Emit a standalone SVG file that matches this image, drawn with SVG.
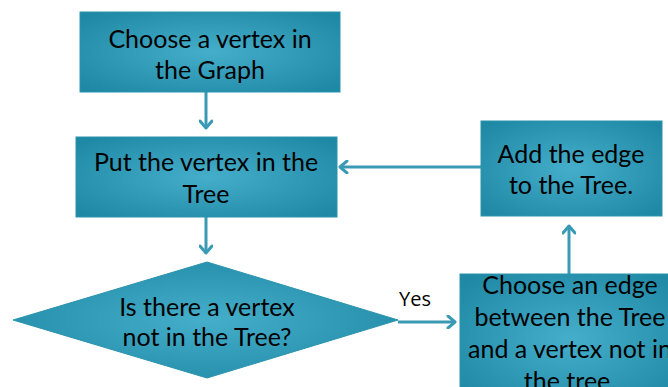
<svg xmlns="http://www.w3.org/2000/svg" width="668" height="387" viewBox="0 0 668 387">
  <defs>
    <radialGradient id="fill" cx="50%" cy="50%" r="65%">
      <stop offset="0" stop-color="#45aecb"/>
      <stop offset="1" stop-color="#1f89a5"/>
    </radialGradient>
    <marker id="head" markerWidth="12" markerHeight="14" refX="9" refY="7" orient="auto" markerUnits="userSpaceOnUse">
      <path d="M2,1 L9,7 L2,13" fill="none" stroke="#3a9ab4" stroke-width="3" stroke-linecap="round" stroke-linejoin="round"/>
    </marker>
  </defs>
  <style>
    .shape { fill: url(#fill); stroke: #2a93ae; stroke-width: 1; }
    .label { font-family: Lato, "Open Sans", sans-serif; font-size: 25px; fill: #000; text-anchor: middle; }
    .edge { stroke: #3a9ab4; stroke-width: 3; fill: none; marker-end: url(#head); }
    .note { font-family: "Open Sans", Lato, sans-serif; font-size: 20px; fill: #000; }
  </style>
  <rect width="668" height="387" fill="#fff"/>

  <g id="connectors">
    <line class="edge" x1="206" y1="92" x2="206" y2="128"/>
    <line class="edge" x1="206" y1="217" x2="206" y2="253"/>
    <line class="edge" x1="398" y1="322" x2="455" y2="322"/>
    <line class="edge" x1="569" y1="274" x2="569" y2="226"/>
    <line class="edge" x1="481" y1="167" x2="340" y2="167"/>
    <text class="note" x="399" y="306">Yes</text>
  </g>

  <g id="choose-vertex">
    <rect class="shape" x="80" y="12" width="260" height="80"/>
    <text class="label" x="210" y="48">Choose a vertex in</text>
    <text class="label" x="210" y="79">the Graph</text>
  </g>

  <g id="put-vertex">
    <rect class="shape" x="76" y="137" width="261" height="80"/>
    <text class="label" x="206" y="171">Put the vertex in the</text>
    <text class="label" x="206" y="203">Tree</text>
  </g>

  <g id="decision">
    <polygon class="shape" points="207,262 398,320 207,378 13,320"/>
    <text class="label" x="207" y="316">Is there a vertex</text>
    <text class="label" x="207" y="346">not in the Tree?</text>
  </g>

  <g id="add-edge">
    <rect class="shape" x="481" y="121" width="181" height="95"/>
    <text class="label" x="571" y="163">Add the edge</text>
    <text class="label" x="571" y="194">to the Tree.</text>
  </g>

  <g id="choose-edge">
    <rect class="shape" x="460" y="274" width="220" height="130"/>
    <text class="label" x="570" y="294">Choose an edge</text>
    <text class="label" x="570" y="326">between the Tree</text>
    <text class="label" x="570" y="358">and a vertex not in</text>
    <text class="label" x="570" y="390">the tree.</text>
  </g>
</svg>
